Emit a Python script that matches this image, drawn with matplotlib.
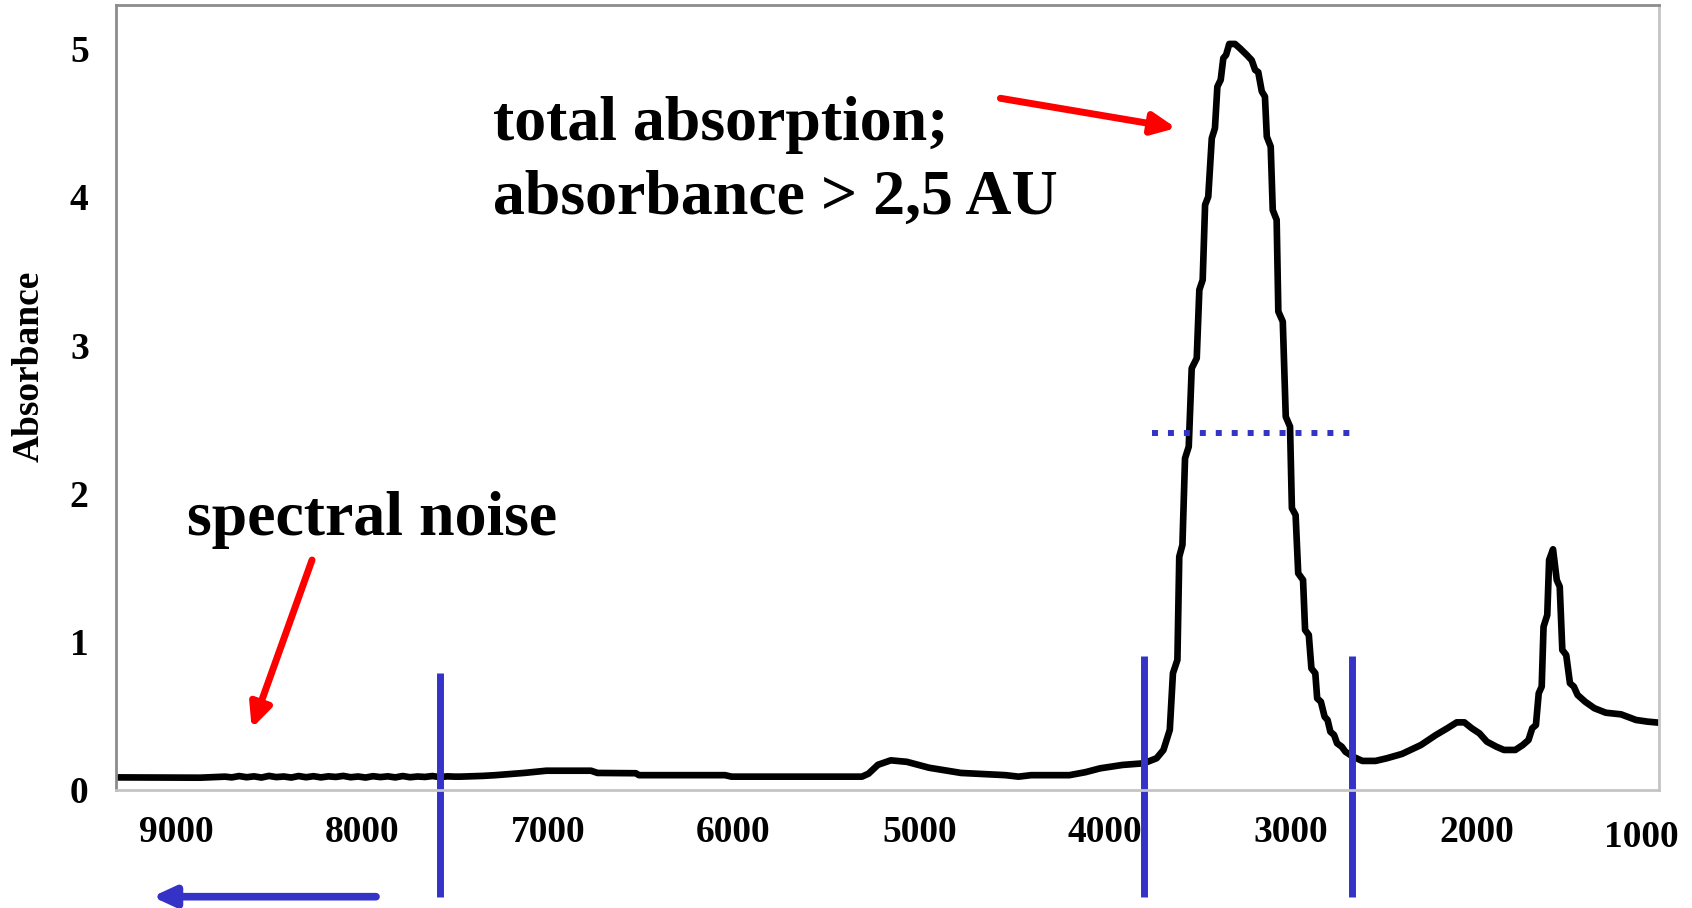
import matplotlib.pyplot as plt
from matplotlib.transforms import blended_transform_factory

# spectrum (wavenumber, absorbance)
wavenumber = [9320, 8870, 8736, 8700, 8660, 8620, 8580, 8540, 8500, 8460, 8420,
              8380, 8340, 8300, 8260, 8220, 8180, 8140, 8100, 8060, 8020, 7980,
              7940, 7900, 7860, 7820, 7780, 7740, 7700, 7660, 7620, 7580, 7540,
              7500, 7470, 7350, 7281, 7127, 7007, 6767, 6732, 6526, 6509, 6046,
              6011, 5309, 5274, 5223, 5154, 5068, 4948, 4776, 4536, 4467, 4399,
              4193, 4107, 4028, 3907, 3793, 3724, 3687, 3653, 3636, 3612, 3602,
              3585, 3571, 3551, 3535, 3508, 3494, 3476, 3463, 3446, 3427, 3410,
              3397, 3379, 3365, 3350, 3333, 3302, 3275, 3239, 3212, 3194, 3177,
              3158, 3141, 3131, 3110, 3099, 3078, 3069, 3045, 3029, 3006, 2996,
              2976, 2962, 2936, 2925, 2905, 2891, 2870, 2860, 2840, 2820, 2804,
              2789, 2769, 2753, 2728, 2708, 2668, 2617, 2546, 2485, 2404, 2302,
              2221, 2160, 2109, 2068, 2028, 1987, 1947, 1896, 1855, 1794, 1754,
              1723, 1703, 1683, 1668, 1652, 1642, 1622, 1612, 1591, 1571, 1555,
              1541, 1520, 1500, 1479, 1459, 1418, 1368, 1307, 1225, 1144, 1083,
              1023]
absorbance = [0.085, 0.083, 0.09, 0.085, 0.094, 0.086, 0.092, 0.084, 0.095, 0.087,
              0.091, 0.084, 0.094, 0.086, 0.093, 0.085, 0.092, 0.088, 0.095, 0.086,
              0.091, 0.084, 0.093, 0.087, 0.092, 0.085, 0.094, 0.086, 0.091, 0.088,
              0.094, 0.087, 0.092, 0.09, 0.09, 0.095, 0.1, 0.115, 0.13, 0.13,
              0.115, 0.113, 0.1, 0.1, 0.09, 0.09, 0.11, 0.17, 0.2, 0.19,
              0.15, 0.115, 0.1, 0.09, 0.1, 0.1, 0.12, 0.146, 0.169, 0.18,
              0.214, 0.27, 0.405, 0.787, 0.877, 1.573, 1.652, 2.236, 2.315, 2.843,
              2.911, 3.372, 3.439, 3.945, 4.0, 4.394, 4.462, 4.742, 4.788, 4.934,
              4.956, 5.03, 5.03, 5.0, 4.956, 4.92, 4.855, 4.84, 4.71, 4.675,
              4.405, 4.338, 3.91, 3.844, 3.226, 3.158, 2.517, 2.45, 1.9, 1.854,
              1.461, 1.416, 1.079, 1.045, 0.82, 0.787, 0.618, 0.595, 0.494, 0.472,
              0.393, 0.371, 0.315, 0.292, 0.258, 0.225, 0.196, 0.196, 0.214, 0.243,
              0.303, 0.371, 0.416, 0.456, 0.456, 0.416, 0.382, 0.326, 0.292, 0.27,
              0.27, 0.303, 0.337, 0.416, 0.438, 0.652, 0.697, 1.101, 1.18, 1.551,
              1.623, 1.416, 1.371, 0.944, 0.91, 0.72, 0.697, 0.641, 0.595, 0.551,
              0.521, 0.51, 0.472, 0.461, 0.454]

x_ticks = [9000, 8000, 7000, 6000, 5000, 4000, 3000, 2000]
last_x_label = '1000'
y_ticks = [0, 1, 2, 3, 4, 5]
band_edges = [7582, 3792, 2675]
threshold = 2.41
threshold_span = [3746, 2671]

blue = '#3532C8'
serif = 'Liberation Serif'

fig = plt.figure(figsize=(16.92, 9.08), dpi=100)
ax = fig.add_axes([0.06885, 0.12996, 0.91141, 0.86410])

ax.plot(wavenumber, absorbance, color='black', lw=4.8, solid_joinstyle='round')
ax.set_xlim(9320, 1023)
ax.set_ylim(0, 5.29)

ax.set_xticks(x_ticks)
ax.set_yticks(y_ticks)
ax.tick_params(length=0, labelsize=27)
ax.tick_params(axis='x', pad=18)
ax.tick_params(axis='y', pad=20)
for lab in ax.get_xticklabels() + ax.get_yticklabels():
    lab.set_fontfamily(serif)
    lab.set_fontweight('bold')
ax.text(0.989, -0.060, last_x_label, transform=ax.transAxes, ha='center', va='center',
        fontsize=27, fontweight='bold', family=serif)

# y axis title
ax.text(-0.0567, 0.5395, 'Absorbance', transform=ax.transAxes, rotation=90,
        ha='center', va='center', fontsize=27, fontweight='bold', family=serif)

for side in ['left', 'top']:
    ax.spines[side].set_color('#8c8c8c')
    ax.spines[side].set_linewidth(2)
for side in ['right', 'bottom']:
    ax.spines[side].set_color('#c4c4c4')
    ax.spines[side].set_linewidth(2)

# band markers, running below the axis
trans = blended_transform_factory(ax.transData, ax.transAxes)
tops = [0.1495, 0.1708, 0.1708]
for w, top in zip(band_edges, tops):
    ax.plot([w, w], [-0.136, top], color=blue, lw=5, transform=trans,
            clip_on=False, solid_capstyle='butt')

ax.plot(threshold_span, [threshold, threshold], color=blue, lw=4.3,
        linestyle=(0, (1, 1.67)), dash_capstyle='butt')

# annotations
ax.text(0.2441, 0.8284, 'total absorption;', transform=ax.transAxes, fontsize=46,
        fontweight='bold', family=serif, va='baseline')
ax.text(0.2441, 0.7341, 'absorbance > 2,5 AU', transform=ax.transAxes, fontsize=46,
        fontweight='bold', family=serif, va='baseline')
ax.text(0.0454, 0.325, 'spectral noise', transform=ax.transAxes, fontsize=46,
        fontweight='bold', family=serif, va='baseline')

red_style = dict(arrowstyle='-|>,head_length=14,head_width=6.5', mutation_scale=1,
                 color='red', lw=5, shrinkA=0, shrinkB=0)
ax.annotate('', xy=(0.6872, 0.8437), xytext=(0.5732, 0.8816), xycoords='axes fraction',
            arrowprops=red_style)
ax.annotate('', xy=(0.0877, 0.0786), xytext=(0.1268, 0.2931), xycoords='axes fraction',
            arrowprops=red_style)
ax.annotate('', xy=(0.0232, -0.136), xytext=(0.1683, -0.136), xycoords='axes fraction',
            annotation_clip=False,
            arrowprops=dict(arrowstyle='-|>,head_length=13,head_width=6', mutation_scale=1,
                            color=blue, lw=5.5, shrinkA=0, shrinkB=0))

fig.savefig('out.png', dpi=100)
